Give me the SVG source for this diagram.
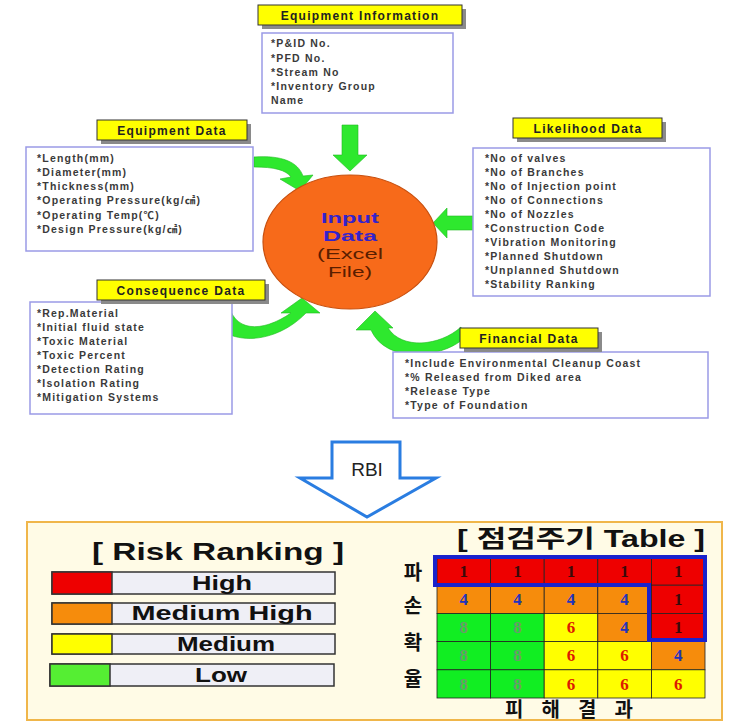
<svg xmlns="http://www.w3.org/2000/svg" width="746" height="726" viewBox="0 0 746 726">
<style>
.lbl{fill:#ffff00;stroke:#333;stroke-width:1}
.shd{fill:#8a8a8a}
.lt{font-family:"Liberation Sans",Arial,sans-serif;font-weight:bold;font-size:12px;fill:#222;letter-spacing:1.3px;text-anchor:middle}
.box{fill:#fff;stroke:#9a9ae6;stroke-width:1.5}
.it{font-family:"Liberation Sans","Noto Sans CJK KR",sans-serif;font-weight:bold;font-size:10.5px;fill:#3a3a3a;letter-spacing:1.2px}
.grn{fill:#2ee82e;stroke:#1fb81f;stroke-width:0.6}
.bar{fill:#efeff6;stroke:#333;stroke-width:1.5}
.bt{font-family:"Liberation Sans",Arial,sans-serif;font-weight:bold;font-size:20px;fill:#111;text-anchor:middle}
.num{font-family:"Liberation Serif","Times New Roman",serif;font-weight:bold;font-size:17px;text-anchor:middle}
.kr{font-family:"Noto Sans CJK KR",sans-serif;font-weight:bold;font-size:20px;fill:#111;text-anchor:middle}
.cell{stroke:#222;stroke-width:0.8}
.ct{font-family:"Liberation Sans",Arial,sans-serif;font-size:15.5px;text-anchor:middle}
</style>

<g id="connectors">
  <polygon class="grn" points="342,125 358,125 358,155 367,155 350,171 333,155 342,155"/>
  <polygon class="grn" points="473,216 447,216 447,208 433,223 447,238 447,230 473,230"/>
  <path class="grn" d="M254,157 C282,155 298,162 303,176 L313,175 L300,191 L280,179 L291,177 C286,170 274,167 254,167 Z"/>
  <path class="grn" d="M205,300 C208,345 268,352 306,313 L320,313 L302,298 L281,313 L291,313 C262,333 232,333 228,300 Z"/>
  <path class="grn" d="M461,327 C440,346 402,350 388,328 L393,328 L375,311 L356,330 L371,330 C386,364 440,358 462,340 Z"/>
  <polygon points="332,442 400,442 400,478 436,478 367,517 300,478 332,478" fill="#fff" stroke="#2a7de1" stroke-width="3" stroke-linejoin="miter"/>
  <text x="367" y="476" font-family="'Liberation Sans',Arial,sans-serif" font-size="19" fill="#222" text-anchor="middle">RBI</text>
</g>

<g id="input-data">
  <ellipse cx="350" cy="242" rx="87" ry="67" fill="#f76a1a" stroke="#c8500f" stroke-width="1.2"/>
  <text class="ct" x="350" y="223" font-weight="bold" fill="#3322cc" textLength="58" lengthAdjust="spacingAndGlyphs">Input</text>
  <text class="ct" x="350" y="241" font-weight="bold" fill="#3322cc" textLength="54" lengthAdjust="spacingAndGlyphs">Data</text>
  <text class="ct" x="350" y="259" fill="#5a1e00" textLength="66" lengthAdjust="spacingAndGlyphs">(Excel</text>
  <text class="ct" x="350" y="277" fill="#5a1e00" textLength="44" lengthAdjust="spacingAndGlyphs">File)</text>
</g>

<g id="equipment-information">
  <rect class="shd" x="262" y="9" width="204" height="20"/>
  <rect class="lbl" x="258" y="5" width="204" height="20"/>
  <text class="lt" x="360" y="20">Equipment Information</text>
  <rect class="box" x="262" y="33" width="191" height="80"/>
  <text class="it" x="271" y="47">*P&amp;ID No.</text>
  <text class="it" x="271" y="62">*PFD  No.</text>
  <text class="it" x="271" y="76">*Stream  No</text>
  <text class="it" x="271" y="90">*Inventory Group</text>
  <text class="it" x="271" y="104">Name</text>
</g>

<g id="equipment-data">
  <rect class="shd" x="101" y="124" width="150" height="20"/>
  <rect class="lbl" x="97" y="120" width="150" height="20"/>
  <text class="lt" x="172" y="135">Equipment Data</text>
  <rect class="box" x="26" y="147" width="227" height="104"/>
  <text class="it" x="37" y="162">*Length(mm)</text>
  <text class="it" x="37" y="176">*Diameter(mm)</text>
  <text class="it" x="37" y="190">*Thickness(mm)</text>
  <text class="it" x="37" y="204">*Operating  Pressure(kg/㎠)</text>
  <text class="it" x="37" y="219">*Operating  Temp(℃)</text>
  <text class="it" x="37" y="233">*Design Pressure(kg/㎠)</text>
</g>

<g id="likelihood-data">
  <rect class="shd" x="517" y="122" width="149" height="20"/>
  <rect class="lbl" x="513" y="118" width="149" height="20"/>
  <text class="lt" x="588" y="133">Likelihood Data</text>
  <rect class="box" x="473" y="148" width="237" height="148"/>
  <text class="it" x="485" y="162">*No  of  valves</text>
  <text class="it" x="485" y="176">*No  of  Branches</text>
  <text class="it" x="485" y="190">*No  of  Injection  point</text>
  <text class="it" x="485" y="204">*No  of  Connections</text>
  <text class="it" x="485" y="218">*No  of  Nozzles</text>
  <text class="it" x="485" y="232">*Construction  Code</text>
  <text class="it" x="485" y="246">*Vibration  Monitoring</text>
  <text class="it" x="485" y="260">*Planned  Shutdown</text>
  <text class="it" x="485" y="274">*Unplanned  Shutdown</text>
  <text class="it" x="485" y="288">*Stability  Ranking</text>
</g>

<g id="consequence-data">
  <rect class="box" x="30" y="302" width="202" height="112"/>
  <rect class="shd" x="101" y="284" width="168" height="20"/>
  <rect class="lbl" x="97" y="280" width="168" height="20"/>
  <text class="lt" x="181" y="295">Consequence Data</text>
  <text class="it" x="37" y="317">*Rep.Material</text>
  <text class="it" x="37" y="331">*Initial  fluid  state</text>
  <text class="it" x="37" y="345">*Toxic  Material</text>
  <text class="it" x="37" y="359">*Toxic  Percent</text>
  <text class="it" x="37" y="373">*Detection  Rating</text>
  <text class="it" x="37" y="387">*Isolation  Rating</text>
  <text class="it" x="37" y="401">*Mitigation  Systems</text>
</g>

<g id="financial-data">
  <rect class="box" x="393" y="352" width="315" height="66"/>
  <rect class="shd" x="464" y="332" width="138" height="20"/>
  <rect class="lbl" x="460" y="328" width="138" height="20"/>
  <text class="lt" x="529" y="343">Financial Data</text>
  <text class="it" x="405" y="367">*Include  Environmental  Cleanup  Coast</text>
  <text class="it" x="405" y="381">*%  Released  from  Diked  area</text>
  <text class="it" x="405" y="395">*Release  Type</text>
  <text class="it" x="405" y="409">*Type  of  Foundation</text>
</g>

<g id="result-panel">
  <rect x="27" y="522" width="695" height="198" fill="#fffbe6" stroke="#f0b64a" stroke-width="2"/>
</g>

<g id="risk-ranking">
  <text x="218" y="560" font-family="'Liberation Sans',Arial,sans-serif" font-weight="bold" font-size="24" fill="#111" text-anchor="middle" textLength="252" lengthAdjust="spacingAndGlyphs">[ Risk Ranking ]</text>
  <rect class="bar" x="52" y="572" width="283" height="22"/>
  <rect x="52" y="572" width="60" height="22" fill="#ee0000" stroke="#333" stroke-width="1.5"/>
  <text class="bt" x="222" y="590" textLength="60" lengthAdjust="spacingAndGlyphs">High</text>
  <rect class="bar" x="52" y="603" width="283" height="21"/>
  <rect x="52" y="603" width="60" height="21" fill="#f68c0c" stroke="#333" stroke-width="1.5"/>
  <text class="bt" x="222" y="620" textLength="181" lengthAdjust="spacingAndGlyphs">Medium High</text>
  <rect class="bar" x="52" y="634" width="283" height="20"/>
  <rect x="52" y="634" width="60" height="20" fill="#ffff00" stroke="#333" stroke-width="1.5"/>
  <text class="bt" x="226" y="651" textLength="98" lengthAdjust="spacingAndGlyphs">Medium</text>
  <rect class="bar" x="50" y="664" width="284" height="22"/>
  <rect x="50" y="664" width="60" height="22" fill="#55ee33" stroke="#333" stroke-width="1.5"/>
  <text class="bt" x="221" y="682" textLength="52" lengthAdjust="spacingAndGlyphs">Low</text>
</g>

<g id="inspection-table">
  <text x="581" y="547" font-family="'Liberation Sans','Noto Sans CJK KR',sans-serif" font-weight="bold" font-size="24" fill="#111" text-anchor="middle" textLength="248" lengthAdjust="spacingAndGlyphs">[ 점검주기 Table ]</text>
  <rect class="cell" x="437" y="557" width="53.6" height="28.2" fill="#ee0000"/>
  <rect class="cell" x="490.6" y="557" width="53.6" height="28.2" fill="#ee0000"/>
  <rect class="cell" x="544.2" y="557" width="53.6" height="28.2" fill="#ee0000"/>
  <rect class="cell" x="597.8" y="557" width="53.6" height="28.2" fill="#ee0000"/>
  <rect class="cell" x="651.4" y="557" width="53.6" height="28.2" fill="#ee0000"/>
  <rect class="cell" x="437" y="585.2" width="53.6" height="28.2" fill="#f68c0c"/>
  <rect class="cell" x="490.6" y="585.2" width="53.6" height="28.2" fill="#f68c0c"/>
  <rect class="cell" x="544.2" y="585.2" width="53.6" height="28.2" fill="#f68c0c"/>
  <rect class="cell" x="597.8" y="585.2" width="53.6" height="28.2" fill="#f68c0c"/>
  <rect class="cell" x="651.4" y="585.2" width="53.6" height="28.2" fill="#ee0000"/>
  <rect class="cell" x="437" y="613.4" width="53.6" height="28.2" fill="#11ee22"/>
  <rect class="cell" x="490.6" y="613.4" width="53.6" height="28.2" fill="#11ee22"/>
  <rect class="cell" x="544.2" y="613.4" width="53.6" height="28.2" fill="#ffff00"/>
  <rect class="cell" x="597.8" y="613.4" width="53.6" height="28.2" fill="#f68c0c"/>
  <rect class="cell" x="651.4" y="613.4" width="53.6" height="28.2" fill="#ee0000"/>
  <rect class="cell" x="437" y="641.6" width="53.6" height="28.2" fill="#11ee22"/>
  <rect class="cell" x="490.6" y="641.6" width="53.6" height="28.2" fill="#11ee22"/>
  <rect class="cell" x="544.2" y="641.6" width="53.6" height="28.2" fill="#ffff00"/>
  <rect class="cell" x="597.8" y="641.6" width="53.6" height="28.2" fill="#ffff00"/>
  <rect class="cell" x="651.4" y="641.6" width="53.6" height="28.2" fill="#f68c0c"/>
  <rect class="cell" x="437" y="669.8" width="53.6" height="28.2" fill="#11ee22"/>
  <rect class="cell" x="490.6" y="669.8" width="53.6" height="28.2" fill="#11ee22"/>
  <rect class="cell" x="544.2" y="669.8" width="53.6" height="28.2" fill="#ffff00"/>
  <rect class="cell" x="597.8" y="669.8" width="53.6" height="28.2" fill="#ffff00"/>
  <rect class="cell" x="651.4" y="669.8" width="53.6" height="28.2" fill="#ffff00"/>

  <g class="num">
    <text x="463.8" y="577" fill="#3a0a0a">1</text>
    <text x="517.4" y="577" fill="#3a0a0a">1</text>
    <text x="571" y="577" fill="#3a0a0a">1</text>
    <text x="624.6" y="577" fill="#3a0a0a">1</text>
    <text x="678.2" y="577" fill="#3a0a0a">1</text>
    <text x="463.8" y="605" fill="#2233bb">4</text>
    <text x="517.4" y="605" fill="#2233bb">4</text>
    <text x="571" y="605" fill="#2233bb">4</text>
    <text x="624.6" y="605" fill="#2233bb">4</text>
    <text x="678.2" y="605" fill="#3a0a0a">1</text>
    <text x="463.8" y="633" fill="#6a9a6a">8</text>
    <text x="517.4" y="633" fill="#6a9a6a">8</text>
    <text x="571" y="633" fill="#dd1a00">6</text>
    <text x="624.6" y="633" fill="#2233bb">4</text>
    <text x="678.2" y="633" fill="#3a0a0a">1</text>
    <text x="463.8" y="661" fill="#6a9a6a">8</text>
    <text x="517.4" y="661" fill="#6a9a6a">8</text>
    <text x="571" y="661" fill="#dd1a00">6</text>
    <text x="624.6" y="661" fill="#dd1a00">6</text>
    <text x="678.2" y="661" fill="#2233bb">4</text>
    <text x="463.8" y="690" fill="#6a9a6a">8</text>
    <text x="517.4" y="690" fill="#6a9a6a">8</text>
    <text x="571" y="690" fill="#dd1a00">6</text>
    <text x="624.6" y="690" fill="#dd1a00">6</text>
    <text x="678.2" y="690" fill="#dd1a00">6</text>
  </g>

  <polygon points="435,557 705,557 705,640 649,640 649,585 435,585" fill="none" stroke="#1a22cc" stroke-width="4" stroke-linejoin="miter"/>

  <text class="kr" x="413" y="580">파</text>
  <text class="kr" x="413" y="613">손</text>
  <text class="kr" x="413" y="650">확</text>
  <text class="kr" x="413" y="686">율</text>
  <text class="kr" x="569" y="717" font-size="18" textLength="128" lengthAdjust="spacing">피 해 결 과</text>
</g>
</svg>
